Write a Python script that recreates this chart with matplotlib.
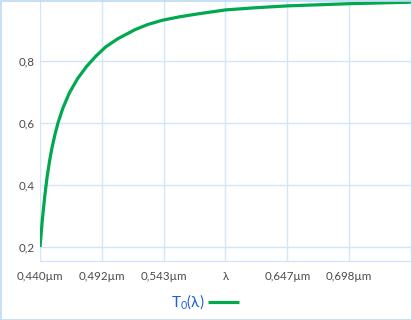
"""
Transmission curve T0(lambda) recreated with matplotlib.
"""

import matplotlib.pyplot as plt
from matplotlib.patches import Rectangle


# wavelength (µm) and transmission
wavelength = [
    0.4400, 0.4420, 0.4440, 0.4460, 0.4480, 0.4500, 0.4525,
    0.4550, 0.4590, 0.4645, 0.4715, 0.4790, 0.4870, 0.4950,
    0.5050, 0.5192, 0.5300, 0.5426, 0.5570, 0.5715, 0.5949,
    0.6200, 0.6466, 0.6977, 0.7500,
]
transmission = [
    0.200, 0.290, 0.365, 0.428, 0.478, 0.520, 0.563,
    0.600, 0.647, 0.697, 0.744, 0.783, 0.817, 0.846,
    0.872, 0.901, 0.918, 0.932, 0.943, 0.952, 0.965,
    0.972, 0.978, 0.985, 0.990,
]

x_ticks = [0.440, 0.4917, 0.5433, 0.595, 0.6467, 0.6983, 0.750]
x_tick_labels = [
    "0,440µm", "0,492µm", "0,543µm", "λ",
    "0,647µm", "0,698µm", "",
]
y_ticks = [0.2, 0.4, 0.6, 0.8]
y_tick_labels = ["0,2", "0,4", "0,6", "0,8"]

GRID = "#d3e5f6"
GREEN = "#00a84f"
BLUE = "#1c62d6"
TEXT = "#4a4a4a"

plt.rcParams["font.family"] = ["Lato", "DejaVu Sans"]
plt.rcParams["mathtext.fontset"] = "custom"
plt.rcParams["mathtext.rm"] = "Lato"
plt.rcParams["mathtext.it"] = "Lato"

fig = plt.figure(figsize=(4.12, 3.2), dpi=100)
ax = fig.add_axes([40 / 412, 59 / 320, 371 / 412, 261 / 320])

ax.plot(
    wavelength,
    transmission,
    color=GREEN,
    linewidth=2.3,
    solid_capstyle="butt",
    solid_joinstyle="round",
    label=r"T$_0$(λ)",
    zorder=3,
)

ax.set_xlim(0.440, 0.750)
ax.set_ylim(0.155, 0.997)

ax.set_xticks(x_ticks)
ax.set_xticklabels(x_tick_labels)
ax.set_yticks(y_ticks)
ax.set_yticklabels(y_tick_labels)

ax.tick_params(
    axis="both",
    length=0,
    labelsize=8.3,
    labelcolor=TEXT,
)
ax.tick_params(axis="x", pad=7)
ax.tick_params(axis="y", pad=3.6)

ax.grid(True, color=GRID, linewidth=1.0)

for side in ["top", "right", "left"]:
    ax.spines[side].set_visible(False)
ax.spines["bottom"].set_color(GRID)
ax.spines["bottom"].set_linewidth(1.0)

legend = fig.legend(
    loc="center",
    bbox_to_anchor=(205 / 412, 1 - 302 / 320),
    frameon=False,
    markerfirst=False,
    fontsize=11,
    handlelength=2.0,
    handletextpad=0.2,
    labelcolor=BLUE,
)

fig.patches.append(
    Rectangle(
        (0.5 / 412, 0.5 / 320),
        1 - 1 / 412,
        1 - 1 / 320,
        transform=fig.transFigure,
        fill=False,
        edgecolor="#bcdaf2",
        linewidth=1.2,
    )
)

fig.savefig("out.png", dpi=100)
